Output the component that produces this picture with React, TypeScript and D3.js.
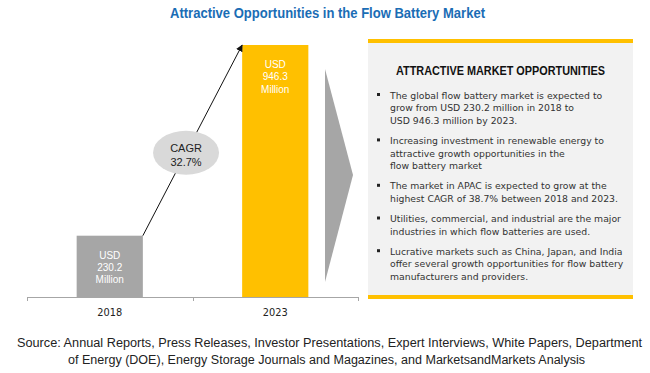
import React from 'react';
import * as d3 from 'd3';

const years = ['2018', '2023'];
const values = [230.2, 946.3];
const barLabels = [['USD', '230.2', 'Million'], ['USD', '946.3', 'Million']];
const cagrLabel = ['CAGR', '32.7%'];
const title = 'Attractive Opportunities in the Flow Battery Market';
const panelTitle = 'ATTRACTIVE MARKET OPPORTUNITIES';
const bullets = [
  ['The global flow battery market is expected to', 'grow from USD 230.2 million in 2018 to', 'USD 946.3 million by 2023.'],
  ['Increasing investment in renewable energy to', 'attractive growth opportunities in the', 'flow battery market'],
  ['The market in APAC is expected to grow at the', 'highest CAGR of 38.7% between 2018 and 2023.'],
  ['Utilities, commercial, and industrial are the major', 'industries in which flow batteries are used.'],
  ['Lucrative markets such as China, Japan, and India', 'offer several growth opportunities for flow battery', 'manufacturers and providers.'],
];
const sourceLines = [
  'Source: Annual Reports, Press Releases, Investor Presentations, Expert Interviews, White Papers, Department',
  'of Energy (DOE), Energy Storage Journals and Magazines, and MarketsandMarkets Analysis',
];

const W = 650;
const H = 373;
const barColors = ['#a6a6a6', '#ffc000'];
const sans = '"Liberation Sans", Arial, sans-serif';
const verd = '"DejaVu Sans", Verdana, sans-serif';

const App: React.FC = () => {
  const x = d3.scaleBand<string>().domain(years).range([27, 358]).paddingInner(0.6).paddingOuter(0.3);
  const y = d3.scaleLinear().domain([0, values[1]]).range([297, 45]);
  const bw = x.bandwidth();

  // arrow from top-right of first bar to top-left of second
  const ax1 = (x(years[0]) as number) + bw;
  const ay1 = y(values[0]);
  const ax2 = x(years[1]) as number;
  const ay2 = y(values[1]);
  const t = 0.435;
  const ex = ax1 + (ax2 - ax1) * t;
  const ey = ay1 + (ay2 - ay1) * t;

  // bullet layout
  let cy = 95;
  const bulletRows: { first: number; lines: { text: string; y: number }[] }[] = [];
  bullets.forEach(b => {
    const first = cy;
    const lines = b.map((text, i) => ({ text, y: first + i * 12.7 }));
    bulletRows.push({ first, lines });
    cy = lines[lines.length - 1].y + 20;
  });

  return (
    <div style={{ position: 'fixed', left: 0, top: 0, width: W, height: H, background: '#fff' }}>
      <svg width={W} height={H} viewBox={`0 0 ${W} ${H}`}>
        <defs>
          <marker id="ah" viewBox="0 0 10 10" refX="9" refY="5" markerWidth="7" markerHeight="7" orient="auto">
            <path d="M0,0 L10,5 L0,10 z" fill="#111" />
          </marker>
        </defs>

        <text x={327.5} y={18} textAnchor="middle" fontFamily={sans} fontWeight="bold" fontSize={14}
          fill="#1a6db5" textLength={315} lengthAdjust="spacingAndGlyphs">{title}</text>

        {/* bars */}
        {years.map((yr, i) => (
          <g key={yr}>
            <rect x={x(yr)} y={y(values[i])} width={bw} height={y(0) - y(values[i])} fill={barColors[i]} />
            {barLabels[i].map((l, j) => (
              <text key={j} x={(x(yr) as number) + bw / 2} y={y(values[i]) + 23 + j * 12.3}
                textAnchor="middle" fontFamily={sans} fontSize={10} fill="#fff">{l}</text>
            ))}
            <text x={(x(yr) as number) + bw / 2} y={315.5} textAnchor="middle" fontFamily={verd}
              fontSize={9.8} fill="#222">{yr}</text>
          </g>
        ))}

        {/* axis */}
        <line x1={27} x2={358} y1={297.5} y2={297.5} stroke="#a6a6a6" />
        {[27, 193, 358].map(tx => (
          <line key={tx} x1={tx + 0.5} x2={tx + 0.5} y1={297} y2={301} stroke="#a6a6a6" />
        ))}

        {/* growth arrow */}
        <line x1={ax1} y1={ay1} x2={ax2} y2={ay2} stroke="#111" strokeWidth={1} markerEnd="url(#ah)" />
        <ellipse cx={ex} cy={ey} rx={33} ry={22} fill="#d9d9d9" />
        {cagrLabel.map((l, j) => (
          <text key={j} x={ex} y={ey - 1 + j * 14} textAnchor="middle" fontFamily={sans} fontSize={11} fill="#222">{l}</text>
        ))}

        {/* chevron */}
        <path d="M325,69 L353,175 L325,282 Z" fill="#a6a6a6" />

        {/* panel */}
        <rect x={368} y={41} width={265} height={256} fill="#f2f2f2" />
        <rect x={368} y={39} width={265} height={4} fill="#ffc000" />
        <rect x={368} y={295} width={265} height={4} fill="#ffc000" />
        <text x={500.5} y={75} textAnchor="middle" fontFamily={sans} fontWeight="bold" fontSize={13}
          fill="#111" textLength={209} lengthAdjust="spacingAndGlyphs">{panelTitle}</text>
        {bulletRows.map((b, i) => (
          <g key={i}>
            <rect x={377} y={b.first - 2} width={3} height={3} fill="#222" />
            {b.lines.map((l, j) => (
              <text key={j} x={390} y={l.y + 3.5} fontFamily={verd} fontSize={9.3} fill="#333">{l.text}</text>
            ))}
          </g>
        ))}

        {/* source */}
        <text x={329.5} y={346.5} textAnchor="middle" fontFamily={sans} fontSize={12.5} fill="#222"
          textLength={625} lengthAdjust="spacingAndGlyphs">{sourceLines[0]}</text>
        <text x={326.5} y={363.5} textAnchor="middle" fontFamily={sans} fontSize={12.5} fill="#222"
          textLength={517} lengthAdjust="spacingAndGlyphs">{sourceLines[1]}</text>
      </svg>
    </div>
  );
};

export default App;
